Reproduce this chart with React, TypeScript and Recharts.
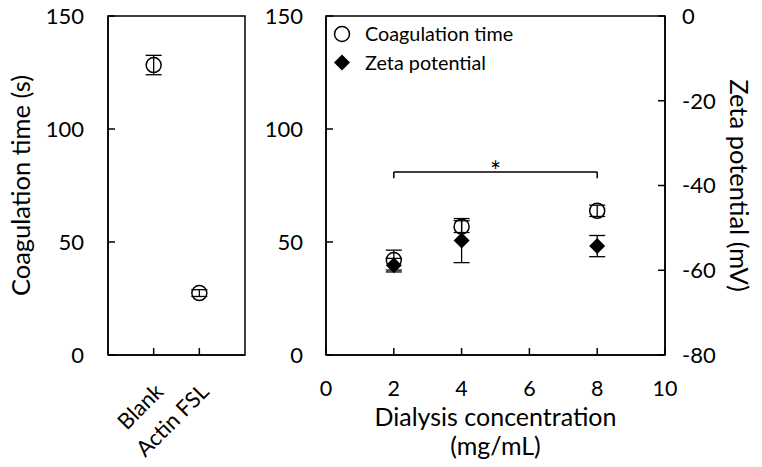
import React from 'react';
import {
  ScatterChart,
  Scatter,
  XAxis,
  YAxis,
  ErrorBar,
  ReferenceArea,
  ReferenceLine,
  Legend,
} from 'recharts';

const font = 'Lato, "Open Sans", sans-serif';

// controls panel
const controls = ['Blank', 'Actin FSL'];
const controlTime = [128.3, 27.4];
const controlErr = [4.3, 1.5];

// dialysis series
const dialysisConc = [2, 4, 8];
const coagTime = [42.0, 56.8, 63.8];
const coagErr = [4.4, 2.6, 2.5];
const zetaPotential = [-58.8, -53.0, -54.3];
const zetaErr = [1.6, 5.2, 2.5];

const timeTicks = [0, 50, 100, 150];
const concTicks = [0, 2, 4, 6, 8, 10];
const zetaTicks = [-80, -60, -40, -20, 0];

// significance bracket (2 vs 8 mg/mL)
const sigFrom = 2;
const sigTo = 8;
const sigLevel = 81;
const sigDrop = 2.8;

const controlData = controls.map((name, i) => ({
  pos: i + 1,
  name,
  value: controlTime[i],
  err: controlErr[i],
}));
const coagData = dialysisConc.map((c, i) => ({ conc: c, value: coagTime[i], err: coagErr[i] }));
const zetaData = dialysisConc.map((c, i) => ({ conc: c, value: zetaPotential[i], err: zetaErr[i] }));

const black = '#000';
const axisLine = { stroke: black, strokeWidth: 1.5 };
const tickStyle = { fill: black, fontSize: 22, fontFamily: font };
const xTickStyle = { fill: black, fontSize: 21.5, fontFamily: font };
const titleSize = 25;

const OpenCircle = (props: any) => (
  <circle cx={props.cx} cy={props.cy} r={7.5} fill="none" stroke={black} strokeWidth={1.5} />
);

const Diamond = (props: any) => {
  const { cx, cy } = props;
  const s = 8;
  return <path d={`M${cx},${cy - s}L${cx + s},${cy}L${cx},${cy + s}L${cx - s},${cy}Z`} fill={black} />;
};

const CategoryTick = (props: any) => {
  const { x, y, payload } = props;
  const label = controls[payload.value - 1];
  const tx = x + 11;
  return (
    <text
      x={tx}
      y={y}
      transform={`rotate(-45, ${tx}, ${y})`}
      textAnchor="end"
      fontSize={22}
      fontFamily={font}
      fill={black}
    >
      {label}
    </text>
  );
};

const verticalTitle = (text: string, dx: number, angle: number) => (props: any) => {
  const vb = props.viewBox ?? { x: 0, y: 0, width: 0, height: 0 };
  const cx = vb.x + dx;
  const cy = vb.y + vb.height / 2;
  return (
    <text
      x={cx}
      y={cy}
      transform={`rotate(${angle}, ${cx}, ${cy})`}
      textAnchor="middle"
      dominantBaseline="central"
      fontSize={titleSize + 0.5}
      fontFamily={font}
      fill={black}
    >
      {text}
    </text>
  );
};

const concTitle = (props: any) => {
  const vb = props.viewBox ?? { x: 0, y: 0, width: 0, height: 0 };
  const cx = vb.x + vb.width / 2;
  return (
    <g fontSize={titleSize} fontFamily={font} fill={black} textAnchor="middle">
      <text x={cx} y={vb.y + 71}>Dialysis concentration</text>
      <text x={cx} y={vb.y + 100}>(mg/mL)</text>
    </g>
  );
};

const LegendContent = (props: any) => {
  const items = props.payload ?? [];
  return (
    <svg width={220} height={60} style={{ display: 'block' }}>
      {items.map((item: any, i: number) => {
        const cy = 16 + i * 28.6;
        return (
          <g key={item.value}>
            {i === 0 ? <OpenCircle cx={12} cy={cy} /> : <Diamond cx={12} cy={cy} />}
            <text x={35} y={cy + 7} fontSize={19.8} fontFamily={font} fill={black}>
              {item.value}
            </text>
          </g>
        );
      })}
    </svg>
  );
};

function ControlPanel() {
  return (
    <ScatterChart width={260} height={467} margin={{ top: 16, right: 15, bottom: 0, left: 0 }}>
      <XAxis
        type="number"
        dataKey="pos"
        domain={[0, 3]}
        ticks={[1, 2]}
        interval={0}
        height={112}
        axisLine={axisLine}
        tickLine={axisLine}
        tickSize={-7}
        tickMargin={45}
        tick={CategoryTick}
      />
      <YAxis
        type="number"
        dataKey="value"
        domain={[0, 150]}
        ticks={timeTicks}
        interval={0}
        width={108}
        axisLine={axisLine}
        tickLine={axisLine}
        tickSize={-7}
        tickMargin={31}
        tick={tickStyle}
        label={verticalTitle('Coagulation time (s)', 20, -90)}
      />
      <ReferenceArea x1={0} x2={3} y1={0} y2={150} fill="none" stroke={black} strokeWidth={1.5} />
      <Scatter data={controlData} shape={OpenCircle} isAnimationActive={false}>
        <ErrorBar dataKey="err" direction="y" width={8} stroke={black} strokeWidth={1.3} />
      </Scatter>
    </ScatterChart>
  );
}

function DialysisPanel() {
  return (
    <ScatterChart width={502} height={467} margin={{ top: 16, right: 0, bottom: 0, left: 0 }}>
      <XAxis
        type="number"
        dataKey="conc"
        domain={[0, 10]}
        ticks={concTicks}
        interval={0}
        height={112}
        axisLine={axisLine}
        tickLine={axisLine}
        tickSize={-7}
        tickMargin={33}
        tick={xTickStyle}
        label={concTitle}
      />
      <YAxis
        yAxisId="time"
        type="number"
        dataKey="value"
        domain={[0, 150]}
        ticks={timeTicks}
        interval={0}
        width={66}
        axisLine={axisLine}
        tickLine={axisLine}
        tickSize={-7}
        tickMargin={30}
        tick={tickStyle}
      />
      <YAxis
        yAxisId="zeta"
        orientation="right"
        type="number"
        dataKey="value"
        domain={[-80, 0]}
        ticks={zetaTicks}
        interval={0}
        width={97}
        axisLine={axisLine}
        tickLine={axisLine}
        tickSize={-7}
        tickMargin={24}
        tick={tickStyle}
        label={verticalTitle('Zeta potential (mV)', 75, 90)}
      />
      <ReferenceArea yAxisId="time" x1={0} x2={10} y1={0} y2={150} fill="none" stroke={black} strokeWidth={1.5} />
      <ReferenceLine
        yAxisId="time"
        segment={[{ x: sigFrom, y: sigLevel }, { x: sigTo, y: sigLevel }]}
        stroke={black}
        strokeWidth={1.5}
        label={{ value: '*', position: 'top', offset: -9, fontSize: 26, fill: black, fontFamily: font }}
      />
      <ReferenceLine
        yAxisId="time"
        segment={[{ x: sigFrom, y: sigLevel }, { x: sigFrom, y: sigLevel - sigDrop }]}
        stroke={black}
        strokeWidth={1.5}
      />
      <ReferenceLine
        yAxisId="time"
        segment={[{ x: sigTo, y: sigLevel }, { x: sigTo, y: sigLevel - sigDrop }]}
        stroke={black}
        strokeWidth={1.5}
      />
      <Legend
        layout="vertical"
        align="center"
        verticalAlign="middle"
        wrapperStyle={{ left: 70, top: 18, width: 220 }}
        content={LegendContent}
      />
      <Scatter name="Coagulation time" yAxisId="time" data={coagData} shape={OpenCircle} isAnimationActive={false}>
        <ErrorBar dataKey="err" direction="y" width={8} stroke={black} strokeWidth={1.3} />
      </Scatter>
      <Scatter name="Zeta potential" yAxisId="zeta" data={zetaData} shape={Diamond} isAnimationActive={false}>
        <ErrorBar dataKey="err" direction="y" width={8} stroke={black} strokeWidth={1.3} />
      </Scatter>
    </ScatterChart>
  );
}

export default function App() {
  return (
    <div style={{ position: 'fixed', left: 0, top: 0, width: 762, height: 467, background: '#fff' }}>
      <div style={{ position: 'absolute', left: 0, top: 0 }}>
        <ControlPanel />
      </div>
      <div style={{ position: 'absolute', left: 260, top: 0 }}>
        <DialysisPanel />
      </div>
    </div>
  );
}
